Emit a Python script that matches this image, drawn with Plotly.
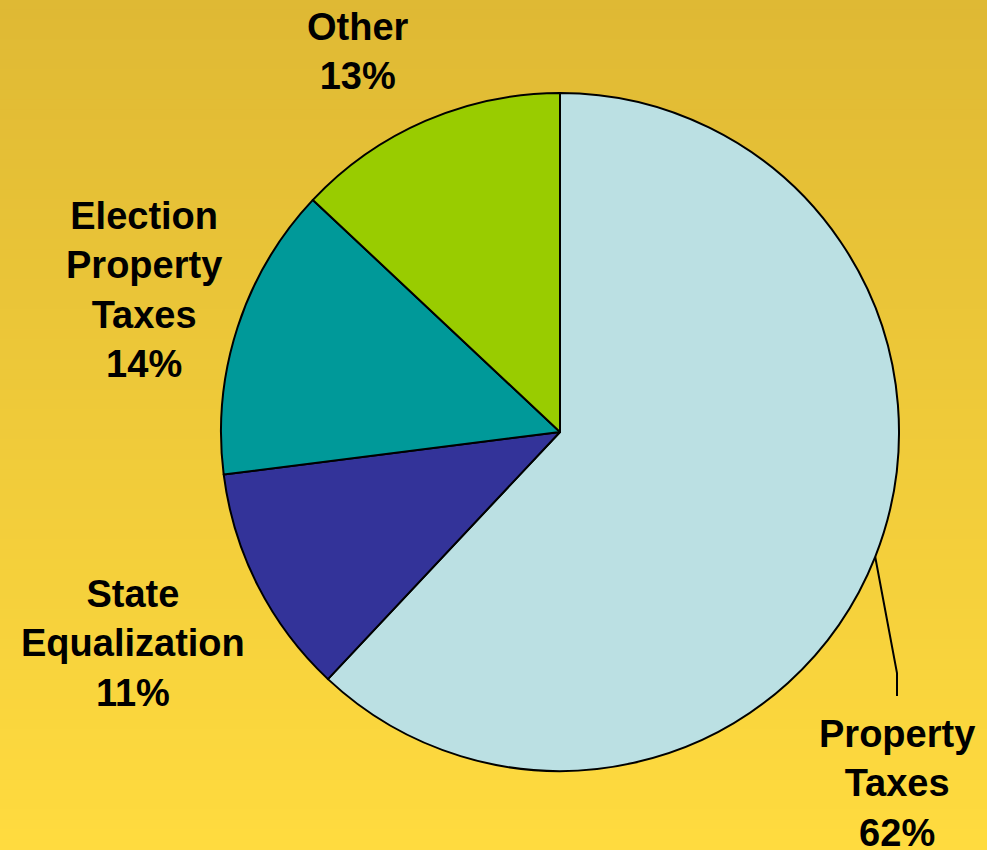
import math
import plotly.graph_objects as go

# Revenue sources, listed clockwise from 12 o'clock
sources = ["Property Taxes", "State Equalization", "Election Property Taxes", "Other"]
shares = [62, 11, 14, 13]
label_text = [
    "Property<br>Taxes<br>62%",
    "State<br>Equalization<br>11%",
    "Election<br>Property<br>Taxes<br>14%",
    "Other<br>13%",
]
slice_colors = ["#BBE0E3", "#333399", "#009999", "#99CC00"]

W, H = 987, 850
CX, CY, R = 560, 432, 339  # pie centre and radius in pixels


def px(x):
    return x / W


def py(y):
    return 1 - y / H


fig = go.Figure()
fig.add_trace(go.Pie(
    labels=sources,
    values=shares,
    sort=False,
    direction="clockwise",
    rotation=0,
    marker=dict(colors=slice_colors, line=dict(color="black", width=2)),
    textinfo="none",
    hoverinfo="label+percent",
    showlegend=False,
    domain=dict(x=[px(CX - R), px(CX + R)], y=[py(CY + R), py(CY - R)]),
))

# vertical ochre-to-yellow gradient behind the pie
shapes = []
top = (223, 185, 52)
bottom = (255, 219, 63)
bands = 85
for i in range(bands):
    t = i / (bands - 1)
    c = tuple(round(top[k] + (bottom[k] - top[k]) * t) for k in range(3))
    shapes.append(dict(
        type="rect", xref="paper", yref="paper", layer="below",
        x0=0, x1=1, y0=1 - (i + 1) / bands, y1=1 - i / bands + 0.001,
        fillcolor="rgb(%d,%d,%d)" % c, line=dict(width=0),
    ))

# leader line from the middle of the largest slice to its label
total = sum(shares)
mid = (shares[0] / 2) / total * 2 * math.pi
sx = CX + R * math.sin(mid)
sy = CY - R * math.cos(mid)
bend_x, bend_y = 897, 673
end_y = 696
shapes.append(dict(
    type="path", xref="paper", yref="paper",
    path="M %f,%f L %f,%f L %f,%f" % (px(sx), py(sy), px(bend_x), py(bend_y), px(bend_x), py(end_y)),
    line=dict(color="black", width=2),
))

# label anchor points (pixels) for each slice
label_pos = [(897, 783), (133, 643), (144, 290), (358, 52)]
annotations = []
for txt, (lx, ly) in zip(label_text, label_pos):
    annotations.append(dict(
        text=txt, x=px(lx), y=py(ly), xref="paper", yref="paper",
        xanchor="center", yanchor="middle", showarrow=False, align="center",
        font=dict(family="Arial, Liberation Sans, sans-serif", size=38, color="black", weight="bold"),
    ))

fig.update_layout(
    width=W, height=H,
    margin=dict(l=0, r=0, t=0, b=0),
    paper_bgcolor="rgb(240,200,58)",
    plot_bgcolor="rgba(0,0,0,0)",
    shapes=shapes,
    annotations=annotations,
)

fig.write_html("out.html")
